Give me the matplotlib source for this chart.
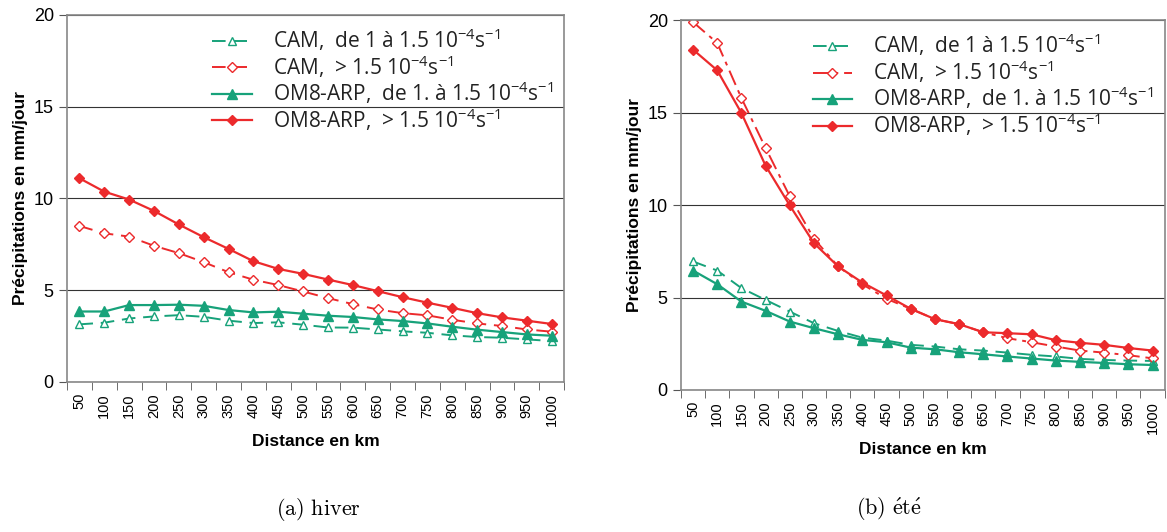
import numpy as np
import matplotlib
matplotlib.use("Agg")
import matplotlib.pyplot as plt

plt.rcParams["mathtext.fontset"] = "custom"
plt.rcParams["mathtext.rm"] = "Open Sans"
plt.rcParams["mathtext.it"] = "Open Sans:italic"
plt.rcParams["mathtext.bf"] = "Open Sans:bold"

# distances (km)
distances = [50, 100, 150, 200, 250, 300, 350, 400, 450, 500,
             550, 600, 650, 700, 750, 800, 850, 900, 950, 1000]

# hiver
hiv_om8_fort = [11.1, 10.37, 9.94, 9.32, 8.58, 7.89, 7.25, 6.58, 6.16, 5.89,
                5.58, 5.28, 4.95, 4.62, 4.32, 4.04, 3.75, 3.52, 3.34, 3.16]
hiv_cam_fort = [8.5, 8.1, 7.92, 7.42, 7.02, 6.53, 5.98, 5.57, 5.28, 4.93,
                4.57, 4.24, 3.95, 3.75, 3.63, 3.39, 3.19, 3.05, 2.86, 2.74]
hiv_om8_moy = [3.84, 3.84, 4.19, 4.19, 4.21, 4.15, 3.92, 3.79, 3.83, 3.72,
               3.61, 3.54, 3.41, 3.32, 3.19, 3.01, 2.85, 2.72, 2.59, 2.52]
hiv_cam_moy = [3.14, 3.23, 3.46, 3.57, 3.64, 3.55, 3.34, 3.21, 3.25, 3.12,
               2.97, 2.96, 2.86, 2.76, 2.68, 2.54, 2.45, 2.41, 2.32, 2.23]

# ete
ete_om8_fort = [18.41, 17.29, 14.98, 12.13, 9.98, 7.94, 6.68, 5.81, 5.11, 4.39,
                3.83, 3.56, 3.12, 3.07, 3.01, 2.69, 2.55, 2.44, 2.27, 2.13]
ete_cam_fort = [19.9, 18.77, 15.79, 13.09, 10.47, 8.18, 6.68, 5.72, 4.93, 4.39,
                3.83, 3.56, 3.12, 2.80, 2.58, 2.35, 2.13, 2.02, 1.88, 1.71]
ete_om8_moy = [6.46, 5.72, 4.78, 4.28, 3.70, 3.34, 3.01, 2.71, 2.58, 2.29,
               2.20, 2.04, 1.93, 1.81, 1.70, 1.59, 1.52, 1.46, 1.39, 1.35]
ete_cam_moy = [6.95, 6.46, 5.51, 4.87, 4.24, 3.61, 3.19, 2.83, 2.67, 2.44,
               2.35, 2.20, 2.13, 2.02, 1.90, 1.81, 1.68, 1.62, 1.59, 1.57]

labels = [r"CAM,  de 1 à 1.5 10$^{-4}$s$^{-1}$",
          r"CAM,  > 1.5 10$^{-4}$s$^{-1}$",
          r"OM8-ARP,  de 1. à 1.5 10$^{-4}$s$^{-1}$",
          r"OM8-ARP,  > 1.5 10$^{-4}$s$^{-1}$"]

rouge = "#ec2a2c"
vert = "#17a27a"

fig = plt.figure(figsize=(11.67, 5.32), dpi=100)
ax1 = fig.add_axes([0.0574, 0.282, 0.4260, 0.690])
ax2 = fig.add_axes([0.5835, 0.267, 0.4145, 0.695])


def trace(ax, cam_moy, cam_fort, om8_moy, om8_fort, dashstyle):
    x = np.arange(len(distances))
    ax.plot(x, cam_moy, color=vert, lw=1.4, dashes=(7, 4), marker="^", ms=6,
            mfc="white", mec=vert, mew=1, label=labels[0])
    ax.plot(x, cam_fort, color=rouge, lw=1.4, dashes=dashstyle, marker="D", ms=5,
            mfc="white", mec=rouge, mew=1, label=labels[1])
    ax.plot(x, om8_moy, color=vert, lw=1.6, marker="^", ms=7, label=labels[2])
    ax.plot(x, om8_fort, color=rouge, lw=1.6, marker="D", ms=5, label=labels[3])

    ax.set_xlim(-0.5, len(distances) - 0.5)
    ax.set_ylim(0, 20)
    ax.set_yticks([0, 5, 10, 15, 20])
    ax.set_xticks(x)
    ax.set_xticklabels([str(d) for d in distances], rotation=90, fontsize=10.5,
                       family="Liberation Sans")
    ax.set_xticks(np.arange(-0.5, len(distances)), minor=True)
    ax.tick_params(axis="x", which="major", length=0, pad=8)
    ax.tick_params(axis="x", which="minor", length=6, color="#555555")
    ax.tick_params(axis="y", labelsize=13, length=6, color="#555555")
    for t in ax.get_yticklabels():
        t.set_family("Liberation Sans")
    ax.grid(axis="y", color="#333333", lw=0.8)
    ax.set_axisbelow(True)
    for s in ax.spines.values():
        s.set_color("#888888")
        s.set_linewidth(1.2)
    ax.set_ylabel("Précipitations en mm/jour", fontsize=12.5, fontweight="bold",
                  family="Liberation Sans")
    ax.set_xlabel("Distance en km", fontsize=12.5, fontweight="bold",
                  family="Liberation Sans", labelpad=6)
    leg = ax.legend(loc="upper right", frameon=False,
                    handlelength=1.9, handletextpad=1.0, borderaxespad=0.15,
                    labelspacing=0.0,
                    prop={"family": "Open Sans", "size": 15})
    for t in leg.get_texts():
        t.set_color("#222222")
    return leg


trace(ax1, hiv_cam_moy, hiv_cam_fort, hiv_om8_moy, hiv_om8_fort, (7, 4))
trace(ax2, ete_cam_moy, ete_cam_fort, ete_om8_moy, ete_om8_fort, (8, 3, 2, 3))

fig.text(0.273, 0.032, r"$\mathrm{(a)\ hiver}$", ha="center", fontsize=16,
         math_fontfamily="cm")
fig.text(0.762, 0.032, r"$\mathrm{(b)\ \acute{e}t\acute{e}}$", ha="center",
         fontsize=16, math_fontfamily="cm")

fig.savefig("out.png", dpi=100)
